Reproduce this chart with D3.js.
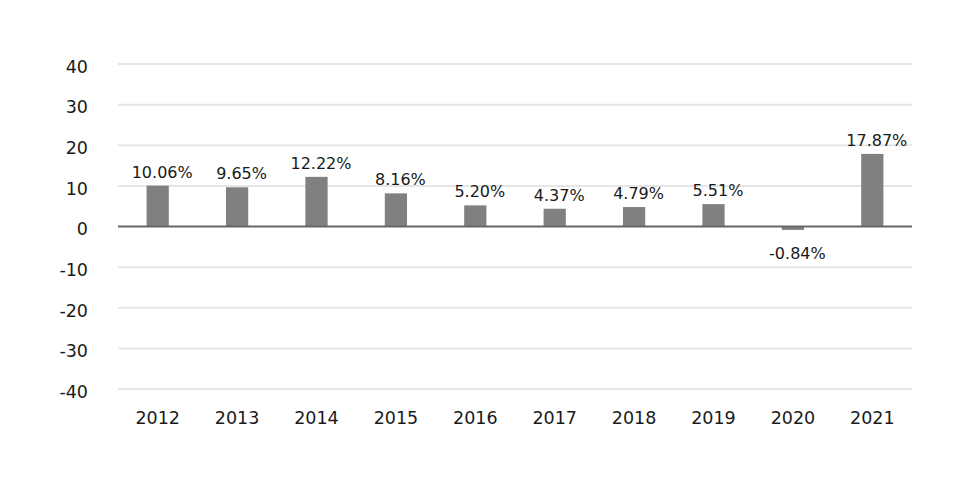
<!DOCTYPE html>
<html><head><meta charset="utf-8">
<script src="https://cdn.jsdelivr.net/npm/d3@7"></script>
<style>body{margin:0;background:#fff}svg{display:block}text{font-family:"DejaVu Sans",sans-serif}</style>
</head><body><svg id="c" width="976" height="488"></svg>
<script>
const years = ["2012","2013","2014","2015","2016","2017","2018","2019","2020","2021"];
const values = [10.06, 9.65, 12.22, 8.16, 5.20, 4.37, 4.79, 5.51, -0.84, 17.87];
const yTicks = [-40,-30,-20,-10,0,10,20,30,40];

const svg = d3.select("#c");
const mLeft = 118, mRight = 912, mTop = 64, mBottom = 389;
const x = d3.scaleBand().domain(years).range([mLeft, mRight]).paddingInner(0.72).paddingOuter(0.36);
const y = d3.scaleLinear().domain([-40, 40]).range([mBottom, mTop]);

svg.append("g").selectAll("line").data(yTicks.filter(d=>d!==0)).join("line")
  .attr("x1", mLeft).attr("x2", mRight).attr("y1", d=>y(d)).attr("y2", d=>y(d))
  .attr("stroke", "#e6e6e6").attr("stroke-width", 2);

svg.append("g").selectAll("text").data(yTicks).join("text")
  .attr("x", 88).attr("y", d=>y(d)).attr("dy", "0.5em").attr("text-anchor", "end")
  .attr("font-size", 17.5).attr("fill", "#1a1a1a").text(d=>d);

svg.append("g").selectAll("rect").data(values).join("rect")
  .attr("x", (d,i)=>x(years[i])).attr("width", x.bandwidth())
  .attr("y", d=>y(Math.max(0,d))).attr("height", d=>Math.abs(y(d)-y(0)))
  .attr("fill", "#808083");

svg.append("line").attr("x1", mLeft).attr("x2", mRight).attr("y1", y(0)).attr("y2", y(0))
  .attr("stroke", "#666").attr("stroke-width", 2);

svg.append("g").selectAll("text").data(values).join("text")
  .attr("x", (d,i)=>x(years[i]) + x.bandwidth()/2 + 4.5)
  .attr("y", d=> d>=0 ? y(d) - 8 : y(d) + 29)
  .attr("text-anchor", "middle").attr("font-size", 16).attr("fill", "#1a1a1a")
  .text(d=>d.toFixed(2) + "%");

svg.append("g").selectAll("text").data(years).join("text")
  .attr("x", d=>x(d) + x.bandwidth()/2).attr("y", 424)
  .attr("text-anchor", "middle").attr("font-size", 17.5).attr("fill", "#1a1a1a").text(d=>d);
</script></body></html>
